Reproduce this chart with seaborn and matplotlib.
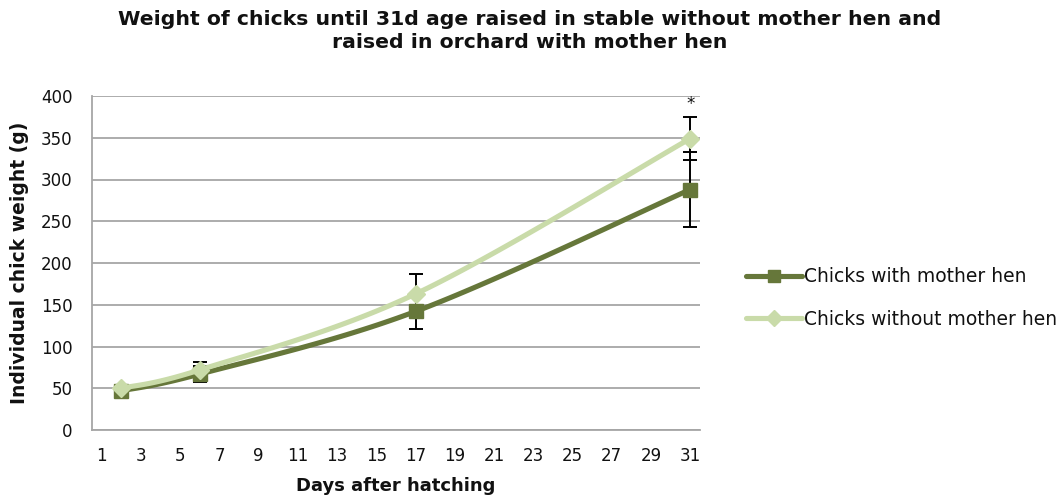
import numpy as np
import pandas as pd
import matplotlib
matplotlib.use("Agg")
import matplotlib.pyplot as plt
from matplotlib.lines import Line2D
import seaborn as sns

# Measured chick weights (g) by day after hatching
days = [2, 6, 17, 31]
with_hen = [47, 67, 142, 288]
with_hen_err = [3, 10, 21, 45]
without_hen = [50, 72, 163, 349]
without_hen_err = [3, 9, 24, 26]
series_names = ["Chicks with mother hen", "Chicks without mother hen"]
x_tick_labels = list(range(1, 32, 2))
y_ticks = list(range(0, 401, 50))

dark = "#66773A"
light = "#C9DBA9"
grid_col = "#A6A6A6"
text_col = "#111111"


def smooth_curve(x, y, n=40):
    """Bezier smoothing through the points (Catmull-Rom style control points)."""
    x = np.asarray(x, float)
    y = np.asarray(y, float)
    pts = np.column_stack([x, y])
    out = []
    for i in range(len(pts) - 1):
        p0 = pts[i - 1] if i > 0 else pts[i]
        p1 = pts[i]
        p2 = pts[i + 1]
        p3 = pts[i + 2] if i + 2 < len(pts) else pts[i + 1]
        c1 = p1 + (p2 - p0) / 6.0
        c2 = p2 - (p3 - p1) / 6.0
        t = np.linspace(0, 1, n)[:, None]
        seg = ((1 - t) ** 3) * p1 + 3 * ((1 - t) ** 2) * t * c1 + 3 * (1 - t) * t ** 2 * c2 + t ** 3 * p2
        out.append(seg if i == 0 else seg[1:])
    seg = np.vstack(out)
    return seg[:, 0], seg[:, 1]


sns.set_theme(style="white")
plt.rcParams["font.family"] = "sans-serif"
plt.rcParams["font.sans-serif"] = ["DejaVu Sans"]

fig = plt.figure(figsize=(10.6, 4.99), dpi=100)
ax = fig.add_axes([92 / 1060, (499 - 430) / 499, 608 / 1060, 334 / 499])

curves = []
for name, ys in zip(series_names, [with_hen, without_hen]):
    cx, cy = smooth_curve(days, ys)
    curves.append(pd.DataFrame({"day": cx, "weight": cy, "series": name}))
curve_df = pd.concat(curves, ignore_index=True)

points_df = pd.DataFrame({
    "day": days * 2,
    "weight": with_hen + without_hen,
    "err": with_hen_err + without_hen_err,
    "series": [series_names[0]] * len(days) + [series_names[1]] * len(days),
})

# error bars (below the lines)
for name in series_names:
    sub = points_df[points_df["series"] == name]
    ax.errorbar(sub["day"], sub["weight"], yerr=sub["err"], fmt="none",
                ecolor="black", elinewidth=1.4, capsize=5, capthick=1.4, zorder=2)

palette = {series_names[0]: dark, series_names[1]: light}
markers = {series_names[0]: "s", series_names[1]: "D"}
msize = {series_names[0]: 9.5, series_names[1]: 9}

for k, name in enumerate(series_names):
    sns.lineplot(data=curve_df[curve_df["series"] == name], x="day", y="weight",
                 color=palette[name], linewidth=3.7, ax=ax, zorder=3 + 2 * k,
                 solid_capstyle="round", sort=False, estimator=None)
    sub = points_df[points_df["series"] == name]
    ax.plot(sub["day"], sub["weight"], linestyle="none", marker=markers[name],
            markersize=msize[name], color=palette[name], markeredgecolor=palette[name],
            zorder=4 + 2 * k)

# significance marker at the last day
last_top = without_hen[-1] + without_hen_err[-1]
ax.annotate("*", xy=(days[-1], last_top), xytext=(0, 3), textcoords="offset points",
            ha="center", va="bottom", fontsize=12, color=text_col)

ax.set_xlim(0.5, 31.5)
ax.set_ylim(0, 400)
ax.set_yticks(y_ticks)
ax.set_xticks(x_tick_labels)
ax.set_xticklabels([str(v) for v in x_tick_labels])
ax.set_xticks(np.arange(0.5, 32, 1.0), minor=True)
ax.tick_params(axis="x", which="major", length=0, pad=12, labelsize=12, labelcolor=text_col)
ax.tick_params(axis="x", which="minor", length=5, width=1.2, color=grid_col, direction="out")
ax.tick_params(axis="y", which="major", length=5, width=1.2, color=grid_col, direction="out",
               pad=9, labelsize=12, labelcolor=text_col)

ax.yaxis.grid(True, color=grid_col, linewidth=1.3)
ax.xaxis.grid(False)
ax.set_axisbelow(True)
for side in ["top", "right"]:
    ax.spines[side].set_visible(False)
for side in ["left", "bottom"]:
    ax.spines[side].set_color(grid_col)
    ax.spines[side].set_linewidth(1.3)

ax.set_xlabel("Days after hatching", fontsize=13, fontweight="bold", labelpad=9, color=text_col)
ax.set_ylabel("Individual chick weight (g)", fontsize=13.5, fontweight="bold", color=text_col)
ax.yaxis.set_label_coords(-(92 - 29) / 608, 0.5)

fig.suptitle("Weight of chicks until 31d age raised in stable without mother hen and\nraised in orchard with mother hen",
             x=0.5, y=0.98, fontsize=14.7, fontweight="bold", linespacing=1.3, color=text_col)

handles = [Line2D([], [], color=palette[n], linewidth=3.7, marker=markers[n],
                  markersize=msize[n] - 1, solid_capstyle="round") for n in series_names]
fig.legend(handles, series_names, loc="center left", bbox_to_anchor=(746 / 1060, 1 - 298 / 499),
           frameon=False, fontsize=13.5, handlelength=3.0, handletextpad=0.1,
           labelspacing=1.25, borderpad=0, borderaxespad=0, labelcolor=text_col)

fig.savefig("out.png", dpi=100)
